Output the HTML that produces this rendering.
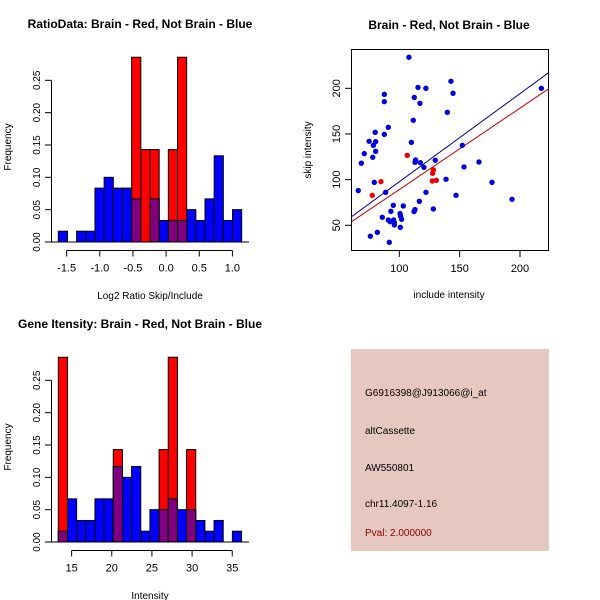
<!DOCTYPE html>
<html><head><meta charset="utf-8"><style>
body{margin:0;background:#fff}
svg{display:block;font-family:"Liberation Sans",sans-serif}
</style></head><body>
<svg id="c" width="600" height="600" xmlns="http://www.w3.org/2000/svg"></svg>
<script>
// Histogram 1: Log2 ratio
const h1Blue=[0.0167,0,0.0167,0.0167,0.0833,0.1,0.0833,0.0833,0.0667,0,0.0667,0.0333,0.0333,0.0333,0.05,0.0333,0.0667,0.1333,0.0333,0.05];
const h1Red=[0,0,0,0,0,0,0,0,0.2857,0.1429,0.1429,0,0.1429,0.2857,0,0,0,0,0,0];
const h1Start=-1.626, h1Width=0.1383;
const h1XTicks=[-1.5,-1.0,-0.5,0.0,0.5,1.0];
const yTicks=[0,0.05,0.10,0.15,0.20,0.25];
// Histogram 2: Intensity
const h2Blue=[0.0167,0.0667,0.0333,0.0333,0.0667,0.0667,0.1167,0.1,0.1167,0.0167,0.05,0.05,0.0667,0.05,0.05,0.0333,0.0167,0.0333,0,0.0167];
const h2Red=[0.2857,0,0,0,0,0,0.1429,0,0,0,0,0.1429,0.2857,0,0.1429,0,0,0,0,0];
const h2Start=13.34, h2Width=1.141;
const h2XTicks=[15,20,25,30,35];
// Scatter
const blueX=[66,68.5,71,75,78,78.5,80.4,80,80.4,79.3,76,81.8,87.6,87.6,87.6,90.9,88.7,85.9,91.7,90.9,92.3,93,95,95.3,95.9,95.9,100.6,101.1,101.9,100.8,103.3,108,110,111.6,112.4,115.5,117.1,122,113,113.5,117.4,120.4,116.6,112.2,113,122.1,128.2,129.8,139.8,138.7,142.8,144.5,147,152.2,153.6,166,176.8,193.4,217.7];
const blueY=[88,118,128.5,142,124.5,137.6,141.6,151.8,131,97,38,42.3,193.4,185.4,149.6,157.3,86.1,58.8,31.4,55.8,54,65.3,71.9,55.8,52.9,50.4,62.8,59.9,56.6,47.8,71.2,234,140.9,165,190,201,183.6,200,119,121.5,118.6,113.5,76.3,65,67.2,86.1,67.9,121.2,173.7,100.4,207.7,194.5,82.8,137.6,113.9,119.3,97,78.5,200];
const redX=[77.6,84.8,106.6,127.3,128.2,127.6,130.7];
const redY=[82.8,97.8,126.6,98.5,110.6,107,99.3];
const blueLine=[1.05,0.966], redLine=[0.1,0.891];
const sXTicks=[100,150,200], sYTicks=[50,100,150,200];

const svg=document.getElementById('c');
const NS='http://www.w3.org/2000/svg';
function mk(tag,attrs,parent){const e=document.createElementNS(NS,tag);for(const k in attrs)e.setAttribute(k,attrs[k]);(parent||svg).appendChild(e);return e;}
function txt(s,x,y,o,parent){const e=mk('text',Object.assign({x:x,y:y,'font-size':11,fill:'#000','text-anchor':'middle'},o||{}),parent);e.textContent=s;return e;}

function hist(oy,blue,red,start,width,xt,x0,xpu,xlab,title,pre){
  const g=mk('g',{});
  
  
  const X=v=>x0+(v-start)*xpu, Y=v=>oy-v*646.7;
  const t=txt(title,140,oy-214,{'font-weight':'bold','font-size':12},g);
  
  blue.forEach((v,i)=>{if(v<=0)return;const r=mk('rect',{x:X(start+i*width),y:Y(v),width:width*xpu,height:v*646.7,fill:'#0000ff',stroke:'#000','stroke-width':1},g);
    });
  red.forEach((v,i)=>{if(v<=0)return;const r=mk('rect',{x:X(start+i*width),y:Y(v),width:width*xpu,height:v*646.7,fill:'#ff0000',stroke:'#000','stroke-width':1},g);
    
    const b=Math.min(v,blue[i]);if(b>0){const p=mk('rect',{x:X(start+i*width),y:Y(b),width:width*xpu,height:b*646.7,fill:'#800080',stroke:'#000','stroke-width':1},g);
    }});
  mk('line',{x1:51.5,x2:51.5,y1:Y(0),y2:Y(0.25),stroke:'#000'},g);
  yTicks.forEach(v=>{mk('line',{x1:45,x2:51.5,y1:Y(v),y2:Y(v),stroke:'#000'},g);
    txt(v.toFixed(2),0,0,{transform:`translate(40,${Y(v)}) rotate(-90)`,'font-size':10},g);});
  mk('line',{x1:51,x2:249,y1:Y(0),y2:Y(0),stroke:'#000'},g);
  const ax=oy+8.5;
  mk('line',{x1:X(xt[0]),x2:X(xt[xt.length-1]),y1:ax,y2:ax,stroke:'#000'},g);
  xt.forEach(v=>{mk('line',{x1:X(v),x2:X(v),y1:ax,y2:ax+6,stroke:'#000'},g);
    txt(pre==='ratio'?v.toFixed(1):String(v),X(v),ax+21,{'font-size':11},g);});
  const xl=txt(xlab,150,oy+57,{'font-size':10},g);
  const yl=txt('Frequency',0,0,{transform:`translate(11,${oy-95}) rotate(-90)`,'font-size':10},g);
}
hist(242,h1Blue,h1Red,h1Start,h1Width,h1XTicks,58.3,66.3,'Log2 Ratio Skip/Include','RatioData: Brain - Red, Not Brain - Blue','ratio');
hist(542,h2Blue,h2Red,h2Start,h2Width,h2XTicks,58.3,8.03,'Intensity','Gene Itensity: Brain - Red, Not Brain - Blue','intensity');

(function(){
  const g=mk('g',{});
  
  
  const X=v=>399.3+(v-100)*1.207, Y=v=>225.3-(v-50)*0.9133;
  const t=txt('Brain - Red, Not Brain - Blue',449,29,{'font-weight':'bold','font-size':12},g);
  
  mk('rect',{x:351.5,y:49.5,width:197,height:201,fill:'none',stroke:'#000'},g);
  const clip=mk('clipPath',{id:'cp'},g);mk('rect',{x:351.5,y:49.5,width:197,height:201},clip);
  const lg=mk('g',{'clip-path':'url(#cp)'},g);
  const xa=60,xb=225;
  const bl=mk('line',{x1:X(xa),y1:Y(blueLine[0]+blueLine[1]*xa),x2:X(xb),y2:Y(blueLine[0]+blueLine[1]*xb),stroke:'#00008b'},lg);
  
  const rl=mk('line',{x1:X(xa),y1:Y(redLine[0]+redLine[1]*xa),x2:X(xb),y2:Y(redLine[0]+redLine[1]*xb),stroke:'#cc0000'},lg);
  
  blueX.forEach((v,i)=>{const c=mk('circle',{cx:X(v),cy:Y(blueY[i]),r:2.7,fill:'#0000dd'},g);
    });
  redX.forEach((v,i)=>{const c=mk('circle',{cx:X(v),cy:Y(redY[i]),r:2.7,fill:'#ee0000'},g);
    });
  sXTicks.forEach(v=>{mk('line',{x1:X(v),x2:X(v),y1:250.5,y2:257,stroke:'#000'},g);txt(String(v),X(v),272,{},g);});
  sYTicks.forEach(v=>{mk('line',{x1:345,x2:351.5,y1:Y(v),y2:Y(v),stroke:'#000'},g);
    txt(String(v),0,0,{transform:`translate(340,${Y(v)}) rotate(-90)`,'font-size':11},g);});
  const xl=txt('include intensity',449,298,{'font-size':10},g);
  const yl=txt('skip intensity',0,0,{transform:'translate(311,150) rotate(-90)','font-size':10},g);
})();

(function(){
  const g=mk('g',{});
  
  
  mk('rect',{x:351,y:349,width:198,height:202,fill:'#e6c8c1'},g);
  const lines=[['G6916398@J913066@i_at',396,'#000','probe-id'],['altCassette',434,'#000','event-type'],['AW550801',471,'#000','accession'],['chr11.4097-1.16',507,'#000','location'],['Pval: 2.000000',536,'#8b0000','p-value']];
  lines.forEach(l=>{const e=txt(l[0],365,l[1],{'text-anchor':'start','font-size':10,fill:l[2]},g);
    });
})();
</script>
</body></html>
